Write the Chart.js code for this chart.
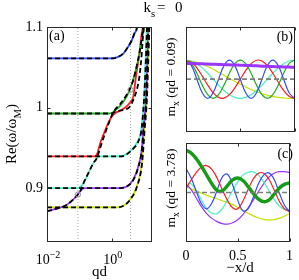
<!DOCTYPE html>
<html>
<head>
<meta charset="utf-8">
<script src="https://cdn.jsdelivr.net/npm/chart.js@4.4.1/dist/chart.umd.min.js"></script>
<style>
  html, body { margin: 0; padding: 0; background: #fff; }
  #wrap { position: relative; width: 299px; height: 280px; overflow: hidden; }
  #wrap canvas { position: absolute; left: 0; top: 0; }
</style>
</head>
<body>
<div id="wrap">
  <canvas id="chartA" width="299" height="280"></canvas>
  <canvas id="chartB" width="299" height="280"></canvas>
  <canvas id="chartC" width="299" height="280"></canvas>
</div>
<script>
// ---- panel (a): Re(w/wM) against qd, log axis ----
const qdTicks = [0.01, 1];
const qdTickExp = ["\u22122", "0"];
const wTicks = [0.9, 1, 1.1];
const wTickLabels = ["0.9", "1", "1.1"];
const qdCuts = [0.09, 3.78];          // dotted lines, where (b) and (c) are taken
const markQd = [0.09, 3.78];
const markW = [0.892, 1.022];

// coloured (coupled) branches
const blueQd = [0.01, 1, 1.5, 2.3, 3.2, 4.1, 5, 6, 7];
const blueW = [1.061, 1.061, 1.0625, 1.0674, 1.0756, 1.083, 1.092, 1.1, 1.13];
const greenQd = [0.01, 0.8, 1.0, 1.2, 1.6, 2.3, 3.5, 4.6, 5.9, 7.4, 8.4, 9.9, 11];
const greenW = [0.9926, 0.9926, 0.993, 0.996, 1.0, 1.0074, 1.021, 1.035, 1.051, 1.07, 1.084, 1.1, 1.12];
const redQd = [0.01, 0.3, 0.35, 0.44, 0.55, 0.7, 0.85, 1.0, 1.26, 1.8, 2.6, 3.6, 4.6, 5.55, 7.1, 8.4, 9.1, 10];
const redW = [0.9393, 0.9393, 0.942, 0.956, 0.966, 0.9765, 0.984, 0.989, 0.993, 0.996, 1.0, 1.006, 1.0136, 1.038, 1.067, 1.092, 1.1, 1.12];
const cyanQd = [0.01, 0.08, 0.1, 0.134, 0.19, 0.27, 0.345, 0.4, 0.5, 2.0, 2.9, 4.6, 6.3, 7.8, 9.9, 11, 12, 13];
const cyanW = [0.9, 0.9, 0.9008, 0.906, 0.9187, 0.931, 0.937, 0.9393, 0.9393, 0.9395, 0.9426, 0.9497, 0.958, 0.968, 1.01, 1.059, 1.1, 1.14];
const purpleQd = [0.01, 0.02, 0.04, 0.065, 0.09, 0.11, 0.13, 0.16, 1.8, 2.9, 4.6, 6.6, 8.4, 9.3, 11.2, 12.3, 13, 14];
const purpleW = [0.871, 0.8745, 0.879, 0.886, 0.892, 0.897, 0.8995, 0.9, 0.9, 0.902, 0.9104, 0.927, 0.9476, 0.972, 1.01, 1.059, 1.1, 1.14];
const yellowQd = [0.01, 1.5, 2.27, 3.6, 5.9, 8.4, 10, 11.8, 13, 14, 15];
const yellowW = [0.876, 0.876, 0.878, 0.8856, 0.902, 0.931, 0.972, 1.01, 1.059, 1.1, 1.14];

// black dashed (uncoupled) branches
const k2Qd = [0.01, 1.0, 1.26, 2.3, 3.6, 4.6, 5.9, 7.1, 8.4, 9.3, 9.8, 10.5];
const k2W = [0.9926, 0.9926, 0.995, 0.997, 1.001, 1.0095, 1.022, 1.038, 1.067, 1.092, 1.1, 1.12];
const k3Qd = [0.01, 2.0, 2.9, 4.6, 6.6, 8.4, 10.2, 11.3, 12.2, 13];
const k3W = [0.9393, 0.9393, 0.942, 0.949, 0.958, 0.975, 1.02, 1.06, 1.1, 1.14];
const k4Qd = [0.01, 1.8, 2.9, 4.6, 6.6, 8.6, 9.6, 11.5, 12.6, 13.3, 14.3];
const k4W = [0.9, 0.9, 0.902, 0.91, 0.926, 0.95, 0.975, 1.01, 1.06, 1.1, 1.14];
const k5Qd = [0.01, 1.5, 2.3, 3.7, 6.0, 8.6, 10.3, 12.1, 13.4, 14.4, 15.5];
const k5W = [0.876, 0.876, 0.878, 0.8856, 0.902, 0.931, 0.972, 1.01, 1.059, 1.1, 1.14];
const kdQd = [0.01, 0.02, 0.04, 0.065, 0.09, 0.11, 0.134, 0.19, 0.27, 0.345, 0.44, 0.55, 0.7, 0.85, 1.0, 1.3, 1.8, 2.5, 3.5, 4.6, 5.9, 7.4, 8.6, 10];
const kdW = [0.871, 0.8745, 0.879, 0.886, 0.892, 0.897, 0.906, 0.9187, 0.931, 0.937, 0.95, 0.962, 0.974, 0.983, 0.99, 0.998, 1.004, 1.012, 1.022, 1.034, 1.052, 1.072, 1.09, 1.11];

// ---- panels (b) and (c): mode profiles against -x/d ----
const xTicks = [0, 0.5, 1];
const xTickLabels = ["0", "0.5", "1"];
const xd = [0, 0.05, 0.1, 0.15, 0.2, 0.25, 0.3, 0.35, 0.4, 0.45, 0.5, 0.55, 0.6, 0.65, 0.7, 0.75, 0.8, 0.85, 0.9, 0.95, 1];

const bBlue = [0.96, 0.71, 0, -0.71, -1, -0.71, 0, 0.71, 1, 0.71, 0, -0.71, -1, -0.71, 0, 0.71, 1, 0.71, 0, -0.71, -1];
const bGreen = [0.96, 0.81, 0.31, -0.31, -0.81, -1, -0.81, -0.31, 0.31, 0.81, 1, 0.81, 0.31, -0.31, -0.81, -1, -0.81, -0.31, 0.31, 0.81, 1];
const bRed = [0.96, 0.89, 0.59, 0.16, -0.31, -0.71, -0.95, -0.99, -0.81, -0.45, 0, 0.45, 0.81, 0.99, 0.95, 0.71, 0.31, -0.16, -0.59, -0.89, -1];
const bCyan = [0.96, 0.95, 0.81, 0.59, 0.31, 0, -0.31, -0.59, -0.81, -0.95, -1, -0.95, -0.81, -0.59, -0.31, 0, 0.31, 0.59, 0.81, 0.95, 1];
const bYellow = [0.96, 0.95, 0.88, 0.78, 0.66, 0.52, 0.36, 0.2, 0.04, -0.12, -0.27, -0.41, -0.54, -0.66, -0.76, -0.84, -0.91, -0.95, -0.98, -1, -1];
const bPurple = [0.83, 0.82, 0.81, 0.8, 0.79, 0.78, 0.77, 0.76, 0.75, 0.74, 0.73, 0.72, 0.71, 0.7, 0.68, 0.67, 0.66, 0.65, 0.64, 0.63, 0.62];

const cBlue = [1.25, 0.75, 0.05, -0.6, -0.85, -0.55, 0.1, 0.8, 0.95, 0.4, -0.4, -0.95, -0.85, -0.25, 0.45, 0.9, 1.02, 0.7, 0, -0.65, -1];
const cRed = [0.2, 0.65, 1.05, 1.32, 1.4, 1.2, 0.75, 0.15, -0.4, -0.8, -0.85, -0.45, 0.15, 0.7, 1.0, 1.0, 0.7, 0.15, -0.45, -0.85, -1];
const cCyan = [0.5, 0.45, 0.1, -0.4, -0.85, -1.08, -1.1, -0.85, -0.4, 0.1, 0.55, 0.9, 1.05, 1.07, 0.9, 0.55, 0.1, -0.35, -0.7, -0.88, -0.92];
const cPurple = [0.45, 0.15, -0.3, -0.75, -1.1, -1.35, -1.52, -1.62, -1.65, -1.58, -1.42, -1.15, -0.8, -0.4, 0.05, 0.45, 0.8, 1.0, 1.08, 1.08, 1.05];
const cYellow = [0.28, 0.18, 0.08, -0.04, -0.15, -0.24, -0.33, -0.43, -0.52, -0.62, -0.78, -0.93, -1.08, -1.22, -1.33, -1.4, -1.43, -1.42, -1.35, -1.24, -1.1];
const cGreen = [2.2, 2.05, 1.75, 1.35, 0.9, 0.45, 0.1, 0.08, 0.35, 0.65, 0.75, 0.62, 0.3, -0.05, -0.35, -0.48, -0.4, -0.1, 0.22, 0.42, 0.5];

const COL = {
    blue: "#2f4cff", green: "#1faf1f", red: "#ff1c1c",
    cyan: "#48eec0", purple: "#9a36ff", yellow: "#c6e000",
};
const SERIF = '"Liberation Serif", "Times New Roman", serif';

Chart.defaults.font.family = SERIF;
Chart.defaults.color = "#000";

const pts = (xs, ys) => xs.map((x, i) => ({ x: x, y: ys[i] }));

// draw text with sub/superscripts, optionally rotated
function richText(ctx, parts, x, y, size, align, rotate) {
    ctx.save();
    ctx.translate(x, y);
    if (rotate) ctx.rotate(-Math.PI / 2);
    const fontOf = p => `${(p.sub || p.sup) ? size * 0.72 : size}px ${SERIF}`;
    let w = 0;
    parts.forEach(p => { ctx.font = fontOf(p); w += ctx.measureText(p.t).width; });
    let cx = align === "center" ? -w / 2 : align === "right" ? -w : 0;
    ctx.fillStyle = "#000";
    ctx.textAlign = "left";
    ctx.textBaseline = "alphabetic";
    parts.forEach(p => {
        ctx.font = fontOf(p);
        const dy = p.sub ? size * 0.3 : p.sup ? -size * 0.42 : 0;
        ctx.fillText(p.t, cx, dy);
        cx += ctx.measureText(p.t).width;
    });
    ctx.restore();
}

// box with inward ticks, like the original axes
function framePlugin(xt, yt, len, extra) {
    return {
        id: "frame",
        afterDraw(chart) {
            const { ctx, chartArea: a, scales } = chart;
            const L = Math.round(a.left) + 0.5, R = Math.round(a.right) - 0.5;
            const T = Math.round(a.top) + 0.5, B = Math.round(a.bottom) - 0.5;
            ctx.save();
            ctx.strokeStyle = "#2a2a2a";
            ctx.lineWidth = 1;
            ctx.strokeRect(L, T, R - L, B - T);
            ctx.beginPath();
            xt.forEach(v => {
                const px = Math.round(scales.x.getPixelForValue(v)) + 0.5;
                ctx.moveTo(px, B); ctx.lineTo(px, B - len);
                ctx.moveTo(px, T); ctx.lineTo(px, T + len);
            });
            yt.forEach(v => {
                const py = Math.round(scales.y.getPixelForValue(v)) + 0.5;
                ctx.moveTo(L, py); ctx.lineTo(L + len, py);
                ctx.moveTo(R, py); ctx.lineTo(R - len, py);
            });
            ctx.stroke();
            ctx.restore();
            if (extra) extra(chart);
        }
    };
}

// ---------- chart (a) ----------
const coloured = [
    [blueQd, blueW, COL.blue], [greenQd, greenW, COL.green], [redQd, redW, COL.red],
    [cyanQd, cyanW, COL.cyan], [purpleQd, purpleW, COL.purple], [yellowQd, yellowW, COL.yellow],
];
const dashedBlack = [
    [blueQd, blueW], [k2Qd, k2W], [k3Qd, k3W], [k4Qd, k4W], [k5Qd, k5W], [kdQd, kdW],
];
const W_MIN = 0.833, W_MAX = 1.1;

const dsA = [];
dashedBlack.forEach(([q, w]) => dsA.push({
    data: pts(q, w), borderColor: "#000", borderWidth: 1.8, borderDash: [5, 3],
    pointRadius: 0, cubicInterpolationMode: "monotone", order: 1,
}));
coloured.forEach(([q, w, c]) => dsA.push({
    data: pts(q, w), borderColor: c, borderWidth: 1.8,
    pointRadius: 0, cubicInterpolationMode: "monotone", order: 2,
}));
qdCuts.forEach(q => dsA.push({
    data: pts([q, q], [W_MIN, W_MAX]), borderColor: "#a8a8a8", borderWidth: 1,
    borderDash: [1, 2], pointRadius: 0, order: 3,
}));
dsA.push({
    data: pts(markQd, markW), showLine: false, pointRadius: 2.6, pointBorderWidth: 1,
    pointBorderColor: "#8a8a8a", pointBackgroundColor: "rgba(0,0,0,0)", order: 0,
});

new Chart(document.getElementById("chartA"), {
    type: "line",
    data: { datasets: dsA },
    options: {
        responsive: false, animation: false, devicePixelRatio: 1,
        layout: { padding: { left: 0, top: 27, right: 147, bottom: 0 } },
        plugins: { legend: { display: false }, tooltip: { enabled: false } },
        scales: {
            x: {
                type: "logarithmic", min: 0.01, max: 17.4,
                afterBuildTicks: s => { s.ticks = qdTicks.map(v => ({ value: v })); },
                afterFit: s => { s.height = 38; },
                grid: { display: false, drawTicks: false }, border: { display: false },
                ticks: { display: false },
            },
            y: {
                type: "linear", min: W_MIN, max: W_MAX,
                afterBuildTicks: s => { s.ticks = wTicks.map(v => ({ value: v })); },
                afterFit: s => { s.width = 47; },
                grid: { display: false, drawTicks: false }, border: { display: false },
                ticks: { padding: 4, font: { size: 14 }, callback: (v, i) => wTickLabels[i] },
            },
        },
    },
    plugins: [framePlugin(qdTicks, wTicks, 3, chart => {
        const { ctx, scales } = chart;
        qdTicks.forEach((v, i) => richText(ctx, [{ t: "10" }, { t: qdTickExp[i], sup: true }],
            scales.x.getPixelForValue(v) + 1, 264, 14, "center"));
        richText(ctx, [{ t: "qd" }], 99.5, 276, 15, "center");
        richText(ctx, [{ t: "Re(\u03c9/\u03c9" }, { t: "M", sub: true }, { t: ")" }], 16, 134, 15, "center", true);
        richText(ctx, [{ t: "(a)" }], 49, 40, 14, "left");
        richText(ctx, [{ t: "k" }, { t: "s", sub: true }], 143.5, 12, 15, "left");
        richText(ctx, [{ t: "=" }], 157, 12, 15, "left");
        richText(ctx, [{ t: "0" }], 175, 12, 15, "left");
    })],
});

// ---------- charts (b) and (c) ----------
function profileChart(id, top, bottom, yMin, yMax, series, thick, showX, extra) {
    const ds = [{
        data: pts([0, 1], [0, 0]), borderColor: "#7d7d7d", borderWidth: 1.6,
        borderDash: [5, 3], pointRadius: 0,
    }, {
        data: pts(xd, thick[0]), borderColor: thick[1], borderWidth: thick[2],
        pointRadius: 0, tension: 0.4,
    }];
    series.forEach(([v, c]) => ds.push({
        data: pts(xd, v), borderColor: c, borderWidth: 1.2, pointRadius: 0, tension: 0.4,
    }));
    new Chart(document.getElementById(id), {
        type: "line",
        data: { datasets: ds },
        options: {
            responsive: false, animation: false, devicePixelRatio: 1,
            layout: { padding: { left: 0, top: top, right: 4.5, bottom: 0 } },
            plugins: { legend: { display: false }, tooltip: { enabled: false } },
            scales: {
                x: {
                    type: "linear", min: 0, max: 1,
                    afterBuildTicks: s => { s.ticks = xTicks.map(v => ({ value: v })); },
                    afterFit: s => { s.height = 280 - bottom; },
                    grid: { display: false, drawTicks: false }, border: { display: false },
                    ticks: { display: showX, padding: 6, font: { size: 14 }, maxRotation: 0,
                             autoSkip: false, callback: (v, i) => xTickLabels[i] },
                },
                y: {
                    type: "linear", min: yMin, max: yMax,
                    afterFit: s => { s.width = 186; },
                    grid: { display: false, drawTicks: false }, border: { display: false },
                    ticks: { display: false },
                },
            },
        },
        plugins: [framePlugin(xTicks, [], 3, extra)],
    });
}

profileChart("chartB", 27.3, 132, -2.76, 2.71,
    [[bBlue, COL.blue], [bGreen, COL.green], [bRed, COL.red], [bCyan, COL.cyan], [bYellow, COL.yellow]],
    [bPurple, COL.purple, 3], false, chart => {
        const ctx = chart.ctx;
        richText(ctx, [{ t: "(b)" }], 293, 41, 14, "right");
        richText(ctx, [{ t: "m" }, { t: "x", sub: true }, { t: " (qd = 0.09)" }], 175, 77, 13.5, "center", true);
    });

profileChart("chartC", 142.7, 242, -2.58, 2.59,
    [[cBlue, COL.blue], [cRed, COL.red], [cCyan, COL.cyan], [cPurple, COL.purple], [cYellow, COL.yellow]],
    [cGreen, "#179c17", 3.4], true, chart => {
        const ctx = chart.ctx;
        richText(ctx, [{ t: "(c)" }], 293, 158, 14, "right");
        richText(ctx, [{ t: "m" }, { t: "x", sub: true }, { t: " (qd = 3.78)" }], 175, 188, 13.5, "center", true);
        richText(ctx, [{ t: "\u2212x/d" }], 240, 272, 15, "center");
    });
</script>
</body>
</html>
